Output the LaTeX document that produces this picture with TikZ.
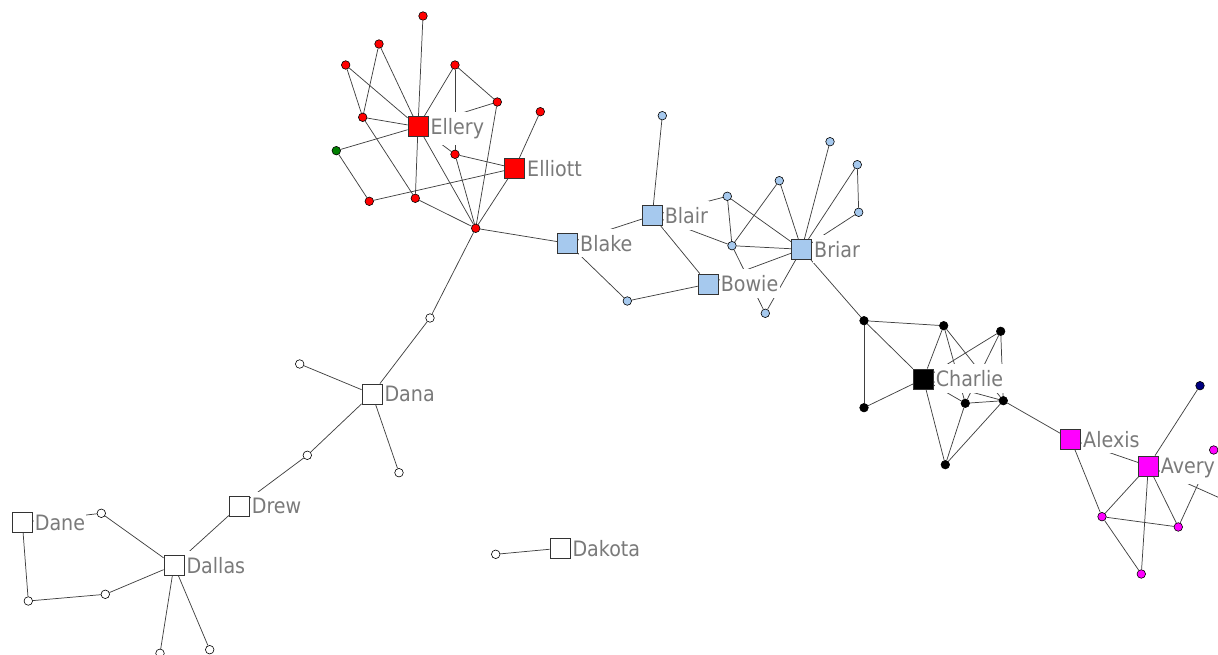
\documentclass[tikz,border=0pt]{standalone}
\usepackage{fontspec}
\newfontfamily\lblfont{DejaVu Sans}[FakeStretch=0.9]
\pgfdeclarelayer{background}
\pgfdeclarelayer{foreground}
\pgfsetlayers{background,main,foreground}
\definecolor{nred}{HTML}{FF0000}
\definecolor{ngreen}{HTML}{007F00}
\definecolor{nblue}{HTML}{A6C9EE}
\definecolor{nmag}{HTML}{FF00FF}
\definecolor{nnavy}{HTML}{000080}
\definecolor{lblgray}{HTML}{7A7A7A}
\tikzset{
  sq/.style={rectangle, draw=black!80, line width=0.6pt, minimum size=15pt, inner sep=0pt},
  dot/.style={circle, draw=black, line width=0.45pt, minimum size=6.4pt, inner sep=0pt},
  lnk/.style={draw=black!75, line width=0.55pt},
  lbl/.style={anchor=base west, fill=white, text=lblgray, inner xsep=1pt, inner ysep=4.6pt,
    font=\lblfont\fontsize{15.9pt}{18pt}\selectfont},
}
\begin{document}
\begin{tikzpicture}[x=0.75pt, y=-0.75pt]
\useasboundingbox (0,0) rectangle (1218,655);
\clip (0,0) rectangle (1218,655);

\begin{pgfonlayer}{foreground}
% red group
\node[dot, fill=nred] (r1) at (423,16) {};
\node[dot, fill=nred] (r2) at (379,44) {};
\node[dot, fill=nred] (r3) at (345.7,65) {};
\node[dot, fill=nred] (r4) at (455,65) {};
\node[dot, fill=nred] (r5) at (497.3,102) {};
\node[dot, fill=nred] (r6) at (540.3,111.7) {};
\node[dot, fill=nred] (r7) at (362.7,117.3) {};
\node[sq, fill=nred] (ellery) at (418,126.7) {};
\node[dot, fill=ngreen] (g) at (336.3,150.7) {};
\node[dot, fill=nred] (r8) at (455,154.3) {};
\node[sq, fill=nred] (elliott) at (514.7,168.3) {};
\node[dot, fill=nred] (r9) at (369.3,201.3) {};
\node[dot, fill=nred] (r10) at (415.3,198.3) {};
\node[dot, fill=nred] (hub) at (475.7,228.3) {};
% blue group
\node[dot, fill=nblue] (b1) at (662.3,115.7) {};
\node[sq, fill=nblue] (blair) at (652.3,215.7) {};
\node[sq, fill=nblue] (blake) at (567.7,243.3) {};
\node[sq, fill=nblue] (bowie) at (708.3,284) {};
\node[dot, fill=nblue] (b2) at (627.3,301) {};
\node[dot, fill=nblue] (b3) at (727.3,196.3) {};
\node[dot, fill=nblue] (b4) at (779.3,180.7) {};
\node[dot, fill=nblue] (b5) at (830,141.7) {};
\node[dot, fill=nblue] (b6) at (857.3,164.7) {};
\node[dot, fill=nblue] (b7) at (858.7,212.3) {};
\node[dot, fill=nblue] (b8) at (732,245.7) {};
\node[sq, fill=nblue] (briar) at (801.7,249.3) {};
\node[dot, fill=nblue] (b9) at (765.3,313.3) {};
% black group
\node[dot, fill=black] (k1) at (864,320.7) {};
\node[dot, fill=black] (k2) at (943.7,325.7) {};
\node[dot, fill=black] (k3) at (1000.7,331.3) {};
\node[sq, fill=black] (charlie) at (923.3,379) {};
\node[dot, fill=black] (k4) at (864,407.7) {};
\node[dot, fill=black] (k5) at (965.3,403.3) {};
\node[dot, fill=black] (k6) at (1003.3,400.7) {};
\node[dot, fill=black] (k7) at (945.3,464.7) {};
% magenta group
\node[dot, fill=nnavy] (n1) at (1200,385.7) {};
\node[sq, fill=nmag] (alexis) at (1070.7,439.3) {};
\node[dot, fill=nmag] (m1) at (1213.7,450) {};
\node[sq, fill=nmag] (avery) at (1148.3,466) {};
\node[dot, fill=nmag] (m2) at (1102,516.7) {};
\node[dot, fill=nmag] (m3) at (1178.3,527) {};
\node[dot, fill=nmag] (m4) at (1141.3,574) {};
\coordinate (offr) at (1260,516);
% white group
\node[dot, fill=white] (w0) at (430,318) {};
\node[dot, fill=white] (w1) at (299.7,364) {};
\node[sq, fill=white] (dana) at (372,394) {};
\node[dot, fill=white] (w2) at (307.3,455.3) {};
\node[dot, fill=white] (w3) at (399,472.7) {};
\node[sq, fill=white] (drew) at (239.3,506) {};
\node[sq, fill=white] (dane) at (22.3,522.3) {};
\node[dot, fill=white] (w4) at (101.3,513.3) {};
\node[sq, fill=white] (dallas) at (174,565.3) {};
\node[dot, fill=white] (w5) at (28.3,601) {};
\node[dot, fill=white] (w6) at (105.3,594.3) {};
\node[dot, fill=white] (w7) at (160,653.3) {};
\node[dot, fill=white] (w8) at (209.7,649.7) {};
\node[dot, fill=white] (w9) at (495.7,554.3) {};
\node[sq, fill=white] (dakota) at (560,548.3) {};
\end{pgfonlayer}

\begin{pgfonlayer}{background}
\foreach \a/\b in {r1/ellery, r2/r7, r2/ellery, r3/r7, r3/ellery, r4/ellery, r4/r5, r4/r8,
  r5/ellery, r5/hub, r6/elliott, r7/ellery, r7/r10, g/ellery, g/r9, r9/elliott,
  ellery/r10, ellery/hub, ellery/r8, r8/elliott, r8/hub, elliott/hub, r10/hub,
  hub/blake, hub/w0,
  b1/blair, blake/blair, blair/bowie, blake/b2, b2/bowie, b3/blair, b3/b8, b3/briar,
  b4/b8, b4/briar, b5/briar, b6/briar, b6/b7, b7/briar, blair/b8, b8/briar, b8/b9,
  briar/bowie, briar/b9, briar/k1,
  k1/k2, k1/k4, k1/charlie, k2/charlie, k4/charlie, k2/k5, k2/k6, k3/charlie, k3/k5,
  k3/k6, charlie/k7, k5/k7, k6/k7, k5/k6, charlie/k5, charlie/k6, k6/alexis,
  alexis/m2, alexis/avery, avery/n1, avery/m2, avery/m4, avery/m3, m2/m3, m2/m4,
  m3/m1, avery/offr,
  w0/dana, w1/dana, dana/w2, dana/w3, w2/drew, drew/dallas, dane/w4, w4/dallas,
  dane/w5, w5/w6, w6/dallas, dallas/w7, dallas/w8, w9/dakota}
  \draw[lnk] (\a) -- (\b);
\end{pgfonlayer}

% labels
\foreach \s/\t in {ellery/Ellery, elliott/Elliott, blair/Blair, blake/Blake, bowie/Bowie,
  briar/Briar, charlie/Charlie, alexis/Alexis, avery/Avery, dana/Dana, drew/Drew,
  dane/Dane, dallas/Dallas, dakota/Dakota}
  \node[lbl] (l\s) at ([xshift=0.4pt, yshift=-5.8pt]\s.east) {\t};
\end{tikzpicture}
\end{document}
